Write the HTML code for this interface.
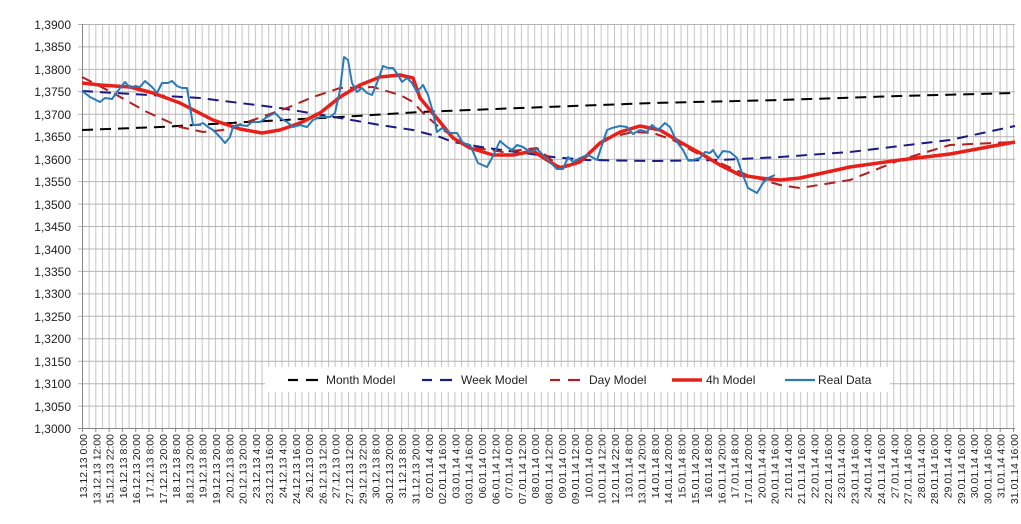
<!DOCTYPE html>
<html><head><meta charset="utf-8"><style>
html,body{margin:0;padding:0;background:#fff;}
svg{display:block;font-family:"Liberation Sans",Arial,sans-serif;}
</style></head><body>
<svg width="1021" height="524" viewBox="0 0 1021 524" xmlns="http://www.w3.org/2000/svg">
<defs>
<pattern id="vg" x="82" y="0" width="6.65" height="524" patternUnits="userSpaceOnUse">
<line x1="0.5" y1="0" x2="0.5" y2="524" stroke="#c4c4c4" stroke-width="1"/>
</pattern>
<pattern id="tk" x="82" y="0" width="13.3" height="524" patternUnits="userSpaceOnUse">
<line x1="0.5" y1="0" x2="0.5" y2="524" stroke="#888" stroke-width="1"/>
</pattern>
</defs>
<rect width="1021" height="524" fill="#fff"/>
<rect x="82" y="24" width="933" height="404" fill="url(#vg)"/>
<rect x="82" y="428" width="934" height="4" fill="url(#tk)"/>
<g stroke="#b4b4b4" stroke-width="1">
<line x1="78" y1="24.5" x2="1015" y2="24.5"/><line x1="78" y1="46.9" x2="1015" y2="46.9"/>
<line x1="78" y1="69.4" x2="1015" y2="69.4"/><line x1="78" y1="91.8" x2="1015" y2="91.8"/>
<line x1="78" y1="114.3" x2="1015" y2="114.3"/><line x1="78" y1="136.7" x2="1015" y2="136.7"/>
<line x1="78" y1="159.2" x2="1015" y2="159.2"/><line x1="78" y1="181.6" x2="1015" y2="181.6"/>
<line x1="78" y1="204.1" x2="1015" y2="204.1"/><line x1="78" y1="226.5" x2="1015" y2="226.5"/>
<line x1="78" y1="249" x2="1015" y2="249"/><line x1="78" y1="271.4" x2="1015" y2="271.4"/>
<line x1="78" y1="293.9" x2="1015" y2="293.9"/><line x1="78" y1="316.3" x2="1015" y2="316.3"/>
<line x1="78" y1="338.8" x2="1015" y2="338.8"/><line x1="78" y1="361.2" x2="1015" y2="361.2"/>
<line x1="78" y1="383.7" x2="1015" y2="383.7"/><line x1="78" y1="406.1" x2="1015" y2="406.1"/>
</g>
<line x1="82.5" y1="24" x2="82.5" y2="432" stroke="#888"/>
<line x1="78" y1="428.5" x2="1015" y2="428.5" stroke="#888"/>
<g font-size="12" fill="#222" text-anchor="end">
<text x="71" y="29">1,3900</text><text x="71" y="51">1,3850</text><text x="71" y="74">1,3800</text>
<text x="71" y="96">1,3750</text><text x="71" y="119">1,3700</text><text x="71" y="141">1,3650</text>
<text x="71" y="164">1,3600</text><text x="71" y="186">1,3550</text><text x="71" y="209">1,3500</text>
<text x="71" y="231">1,3450</text><text x="71" y="254">1,3400</text><text x="71" y="276">1,3350</text>
<text x="71" y="298">1,3300</text><text x="71" y="321">1,3250</text><text x="71" y="343">1,3200</text>
<text x="71" y="366">1,3150</text><text x="71" y="388">1,3100</text><text x="71" y="411">1,3050</text>
<text x="71" y="433">1,3000</text>
</g>
<rect x="265" y="367" width="625" height="25" fill="#fff"/>
<g stroke-width="2.2">
<line x1="288" y1="380" x2="298" y2="380" stroke="#000"/><line x1="306" y1="380" x2="318" y2="380" stroke="#000"/>
<line x1="422" y1="380" x2="432" y2="380" stroke="#1a1a80"/><line x1="440" y1="380" x2="452" y2="380" stroke="#1a1a80"/>
<line x1="550" y1="380" x2="560" y2="380" stroke="#b02020"/><line x1="568" y1="380" x2="580" y2="380" stroke="#b02020"/>
<line x1="672" y1="380" x2="702" y2="380" stroke="#e8201a" stroke-width="3.5"/>
<line x1="785" y1="380" x2="815" y2="380" stroke="#2a7ab8"/>
</g>
<g font-size="12" fill="#222">
<text x="326" y="384">Month Model</text><text x="461" y="384">Week Model</text>
<text x="589" y="384">Day Model</text><text x="706" y="384">4h Model</text><text x="818" y="384">Real Data</text>
</g>
<polyline fill="none" stroke="#000" stroke-width="2" stroke-dasharray="11,7" points="82,130 160,127 247,122 340,117 420,112 520,108 653,103 780,100 900,96 1015,93"/>
<polyline fill="none" stroke="#1a1a80" stroke-width="2" stroke-dasharray="11,7" points="82,91 200,98 280,108 340,118 380,125 413,130 440,137 453,142 487,148 553,157 587,160 653,161 720,160 780,157 850,152 950,140 1015,126"/>
<polyline fill="none" stroke="#b02020" stroke-width="2" stroke-dasharray="11,7" points="82,77 113,93 147,112 180,127 203,132 223,130 253,120 287,108 313,97 340,88 373,87 400,95 413,102 423,113 440,128 470,147 503,152 537,148 560,167 577,162 607,138 633,132 653,133 673,140 700,155 720,163 747,175 780,185 800,188 850,180 900,160 950,145 1015,142"/>
<polyline fill="none" stroke="#e8201a" stroke-width="3.5" stroke-linejoin="round" points="82,83 100,85 130,87 153,93 180,103 213,120 240,129 262,133 280,130 300,123 320,113 340,97 360,85 380,77 400,75 413,78 420,98 440,122 453,138 470,148 493,155 513,155 533,151 547,160 560,168 580,162 600,143 620,132 640,126 660,130 680,142 700,153 720,165 740,175 760,178 780,180 800,178 850,167 900,160 950,154 1015,142"/>
<polyline fill="none" stroke="#2a7ab8" stroke-width="2" stroke-linejoin="round" points="82,91 90,97 100,102 105,98 112,99 117,92 125,82 130,88 135,86 140,87 145,81 152,87 157,93 162,83 168,83 172,81 177,86 182,88 187,88 193,125 198,125 203,123 208,127 213,130 220,137 225,143 230,137 233,127 240,125 247,126 252,122 260,122 267,117 275,113 280,118 287,122 293,127 300,125 307,127 313,120 320,117 330,117 335,113 340,90 344,57 348,60 352,83 357,92 362,88 367,93 372,95 377,83 383,66 388,68 393,68 398,75 402,82 407,78 412,83 417,92 423,85 428,95 433,112 437,132 442,128 450,133 457,133 463,143 470,145 478,163 487,167 492,158 500,141 507,147 512,150 517,145 523,147 530,152 537,149 543,155 550,162 557,169 563,169 568,157 573,162 580,158 587,155 590,156 597,160 602,145 607,130 612,128 620,126 627,127 633,134 640,130 647,132 652,125 658,130 665,123 670,127 677,142 683,150 688,160 693,160 700,158 705,152 710,153 713,150 718,158 723,151 730,152 737,158 742,173 748,188 757,193 763,183 768,178 775,175"/>
<g font-size="10.5" fill="#222" text-anchor="end">
<text x="87" y="434" transform="rotate(-90 87 434)">13.12.13 0:00</text>
<text x="100.3" y="434" transform="rotate(-90 100.3 434)">13.12.13 12:00</text>
<text x="113.6" y="434" transform="rotate(-90 113.6 434)">15.12.13 22:00</text>
<text x="126.9" y="434" transform="rotate(-90 126.9 434)">16.12.13 8:00</text>
<text x="140.2" y="434" transform="rotate(-90 140.2 434)">16.12.13 20:00</text>
<text x="153.5" y="434" transform="rotate(-90 153.5 434)">17.12.13 8:00</text>
<text x="166.8" y="434" transform="rotate(-90 166.8 434)">17.12.13 20:00</text>
<text x="180.1" y="434" transform="rotate(-90 180.1 434)">18.12.13 8:00</text>
<text x="193.4" y="434" transform="rotate(-90 193.4 434)">18.12.13 20:00</text>
<text x="206.7" y="434" transform="rotate(-90 206.7 434)">19.12.13 8:00</text>
<text x="220" y="434" transform="rotate(-90 220 434)">19.12.13 20:00</text>
<text x="233.3" y="434" transform="rotate(-90 233.3 434)">20.12.13 8:00</text>
<text x="246.6" y="434" transform="rotate(-90 246.6 434)">20.12.13 20:00</text>
<text x="259.9" y="434" transform="rotate(-90 259.9 434)">23.12.13 4:00</text>
<text x="273.2" y="434" transform="rotate(-90 273.2 434)">23.12.13 16:00</text>
<text x="286.5" y="434" transform="rotate(-90 286.5 434)">24.12.13 4:00</text>
<text x="299.8" y="434" transform="rotate(-90 299.8 434)">24.12.13 16:00</text>
<text x="313.1" y="434" transform="rotate(-90 313.1 434)">26.12.13 0:00</text>
<text x="326.4" y="434" transform="rotate(-90 326.4 434)">26.12.13 12:00</text>
<text x="339.7" y="434" transform="rotate(-90 339.7 434)">27.12.13 0:00</text>
<text x="353" y="434" transform="rotate(-90 353 434)">27.12.13 12:00</text>
<text x="366.3" y="434" transform="rotate(-90 366.3 434)">29.12.13 22:00</text>
<text x="379.6" y="434" transform="rotate(-90 379.6 434)">30.12.13 8:00</text>
<text x="392.9" y="434" transform="rotate(-90 392.9 434)">30.12.13 20:00</text>
<text x="406.2" y="434" transform="rotate(-90 406.2 434)">31.12.13 8:00</text>
<text x="419.5" y="434" transform="rotate(-90 419.5 434)">31.12.13 20:00</text>
<text x="432.8" y="434" transform="rotate(-90 432.8 434)">02.01.14 4:00</text>
<text x="446.1" y="434" transform="rotate(-90 446.1 434)">02.01.14 16:00</text>
<text x="459.4" y="434" transform="rotate(-90 459.4 434)">03.01.14 4:00</text>
<text x="472.7" y="434" transform="rotate(-90 472.7 434)">03.01.14 16:00</text>
<text x="486" y="434" transform="rotate(-90 486 434)">06.01.14 0:00</text>
<text x="499.3" y="434" transform="rotate(-90 499.3 434)">06.01.14 12:00</text>
<text x="512.6" y="434" transform="rotate(-90 512.6 434)">07.01.14 0:00</text>
<text x="525.9" y="434" transform="rotate(-90 525.9 434)">07.01.14 12:00</text>
<text x="539.2" y="434" transform="rotate(-90 539.2 434)">08.01.14 0:00</text>
<text x="552.5" y="434" transform="rotate(-90 552.5 434)">08.01.14 12:00</text>
<text x="565.8" y="434" transform="rotate(-90 565.8 434)">09.01.14 0:00</text>
<text x="579.1" y="434" transform="rotate(-90 579.1 434)">09.01.14 12:00</text>
<text x="592.4" y="434" transform="rotate(-90 592.4 434)">10.01.14 0:00</text>
<text x="605.7" y="434" transform="rotate(-90 605.7 434)">10.01.14 12:00</text>
<text x="619" y="434" transform="rotate(-90 619 434)">12.01.14 22:00</text>
<text x="632.3" y="434" transform="rotate(-90 632.3 434)">13.01.14 8:00</text>
<text x="645.6" y="434" transform="rotate(-90 645.6 434)">13.01.14 20:00</text>
<text x="658.9" y="434" transform="rotate(-90 658.9 434)">14.01.14 8:00</text>
<text x="672.2" y="434" transform="rotate(-90 672.2 434)">14.01.14 20:00</text>
<text x="685.5" y="434" transform="rotate(-90 685.5 434)">15.01.14 8:00</text>
<text x="698.8" y="434" transform="rotate(-90 698.8 434)">15.01.14 20:00</text>
<text x="712.1" y="434" transform="rotate(-90 712.1 434)">16.01.14 8:00</text>
<text x="725.4" y="434" transform="rotate(-90 725.4 434)">16.01.14 20:00</text>
<text x="738.7" y="434" transform="rotate(-90 738.7 434)">17.01.14 8:00</text>
<text x="752" y="434" transform="rotate(-90 752 434)">17.01.14 20:00</text>
<text x="765.3" y="434" transform="rotate(-90 765.3 434)">20.01.14 4:00</text>
<text x="778.6" y="434" transform="rotate(-90 778.6 434)">20.01.14 16:00</text>
<text x="791.9" y="434" transform="rotate(-90 791.9 434)">21.01.14 4:00</text>
<text x="805.2" y="434" transform="rotate(-90 805.2 434)">21.01.14 16:00</text>
<text x="818.5" y="434" transform="rotate(-90 818.5 434)">22.01.14 4:00</text>
<text x="831.8" y="434" transform="rotate(-90 831.8 434)">22.01.14 16:00</text>
<text x="845.1" y="434" transform="rotate(-90 845.1 434)">23.01.14 4:00</text>
<text x="858.4" y="434" transform="rotate(-90 858.4 434)">23.01.14 16:00</text>
<text x="871.7" y="434" transform="rotate(-90 871.7 434)">24.01.14 4:00</text>
<text x="885" y="434" transform="rotate(-90 885 434)">24.01.14 16:00</text>
<text x="898.3" y="434" transform="rotate(-90 898.3 434)">27.01.14 4:00</text>
<text x="911.6" y="434" transform="rotate(-90 911.6 434)">27.01.14 16:00</text>
<text x="924.9" y="434" transform="rotate(-90 924.9 434)">28.01.14 4:00</text>
<text x="938.2" y="434" transform="rotate(-90 938.2 434)">28.01.14 16:00</text>
<text x="951.5" y="434" transform="rotate(-90 951.5 434)">29.01.14 4:00</text>
<text x="964.8" y="434" transform="rotate(-90 964.8 434)">29.01.14 16:00</text>
<text x="978.1" y="434" transform="rotate(-90 978.1 434)">30.01.14 4:00</text>
<text x="991.4" y="434" transform="rotate(-90 991.4 434)">30.01.14 16:00</text>
<text x="1004.7" y="434" transform="rotate(-90 1004.7 434)">31.01.14 4:00</text>
<text x="1018" y="434" transform="rotate(-90 1018 434)">31.01.14 16:00</text>
</g>
</svg>
</body></html>
